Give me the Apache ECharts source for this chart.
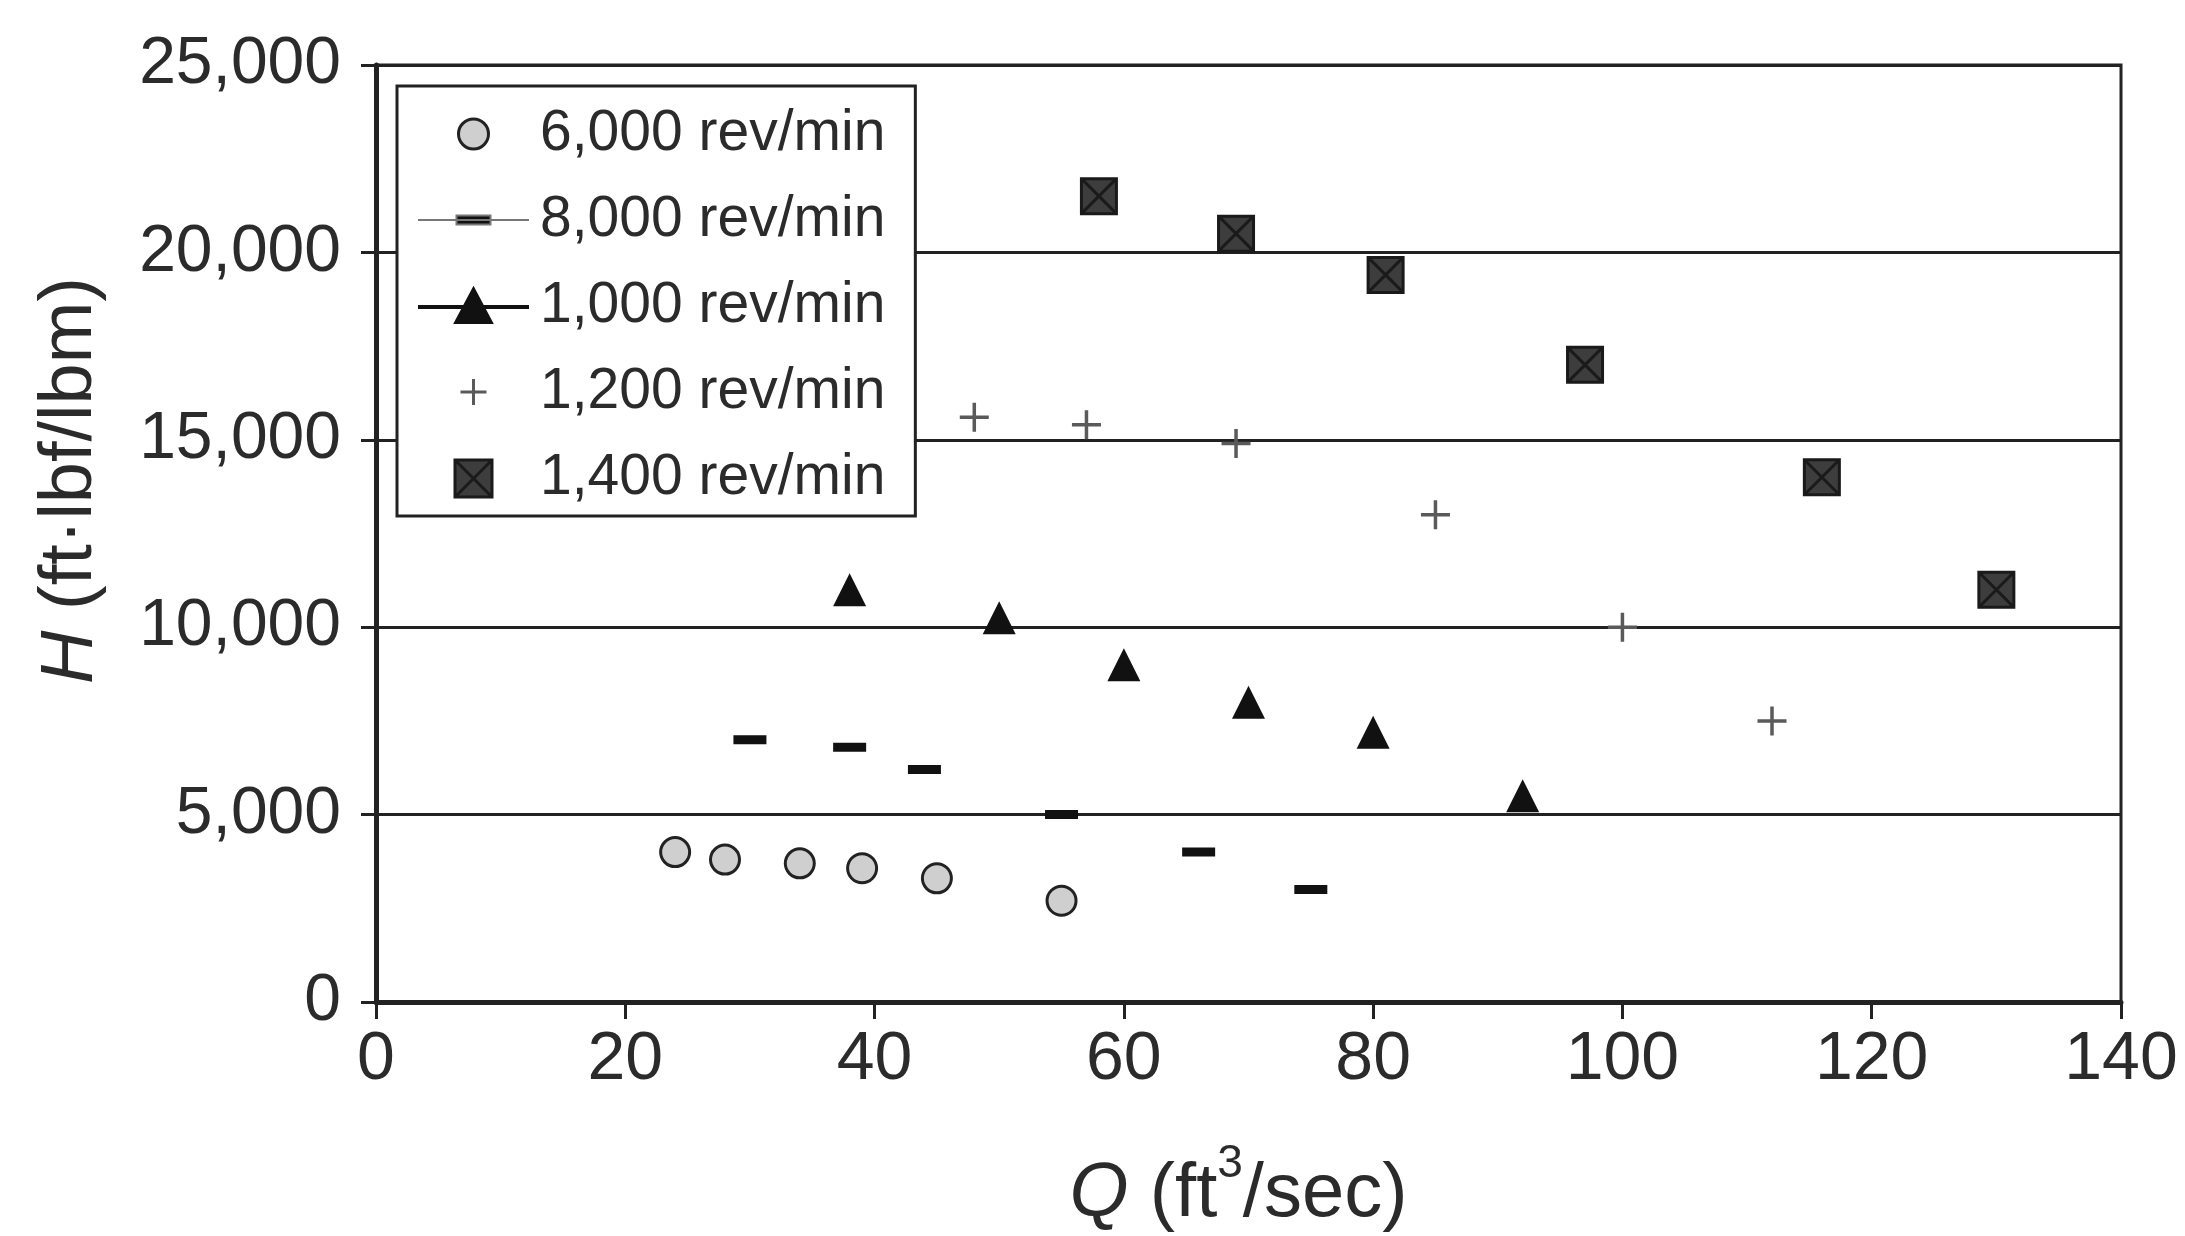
<!DOCTYPE html>
<html>
<head>
<meta charset="utf-8">
<script src="https://cdn.jsdelivr.net/npm/echarts@6/dist/echarts.min.js"></script>
<style>
html,body{margin:0;padding:0;background:#fff;}
#chart{width:2185px;height:1236px;}
</style>
</head>
<body>
<div id="chart"></div>
<script>
// ---- Data ----
const seriesNames = ['6,000 rev/min', '8,000 rev/min', '1,000 rev/min', '1,200 rev/min', '1,400 rev/min'];
const q6000 = [24, 28, 34, 39, 45, 55];
const h6000 = [4000, 3800, 3700, 3570, 3300, 2700];
const q8000 = [30, 38, 44, 55, 66, 75];
const h8000 = [7000, 6800, 6200, 5000, 4000, 3000];
const q1000 = [38, 50, 60, 70, 80, 92];
const h1000 = [11000, 10250, 9000, 8000, 7200, 5500];
const q1200 = [48, 57, 69, 85, 100, 112];
const h1200 = [15600, 15400, 14900, 13000, 10000, 7500];
const q1400 = [58, 69, 81, 97, 116, 130];
const h1400 = [21500, 20500, 19400, 17000, 14000, 11000];
const xTicks = [0, 20, 40, 60, 80, 100, 120, 140];
const yTicks = [0, 5000, 10000, 15000, 20000, 25000];

const pairs = (xs, ys) => xs.map((x, i) => [x, ys[i]]);
const FONT = '"Liberation Sans", Arial, Helvetica, sans-serif';
const INK = '#222';
const TXT = '#2b2b2b';

const plusPath = 'path://M5,0V10M0,5H10';
const xSquarePath = 'path://M0,0H10V10H0Z M0,0L10,10 M10,0L0,10';

// legend icons (box 111 x 40, anchored by the two move-to points)
const legCircle = 'path://M0,0M111,40M70.5,20A15,15 0 1 1 40.5,20A15,15 0 1 1 70.5,20Z';
const legDash = 'path://M0,0M111,40M0,20H111M38.5,15.5H72.5V24.5H38.5Z';
const legTri = 'path://M0,0M111,40M0,21H111M55.5,4L72.5,36H38.5Z';
const legPlus = 'path://M0,0M111,40M55.5,7V33M42.5,20H68.5';
const legSq = 'path://M0,0M111,40M37,2H74V39H37ZM37,2L74,39M74,2L37,39';

const chart = echarts.init(document.getElementById('chart'), null, {renderer: 'canvas'});
chart.setOption({
  backgroundColor: '#fff',
  animation: false,
  textStyle: {fontFamily: FONT},
  grid: {
    left: 376, right: 64, top: 65, bottom: 234,
    containLabel: false, outerBoundsMode: 'none',
    show: true, borderColor: INK, borderWidth: 3, backgroundColor: 'transparent'
  },
  legend: {
    orient: 'vertical',
    left: 397, top: 86,
    padding: [18, 30, 8, 19],
    backgroundColor: '#fff',
    borderColor: INK, borderWidth: 3, borderRadius: 0,
    itemWidth: 111, itemHeight: 40, itemGap: 26,
    symbolKeepAspect: true,
    textStyle: {fontSize: 57, color: TXT, fontFamily: FONT, lineHeight: 60, padding: [0, 0, 0, 6]},
    data: [
      {name: seriesNames[0], icon: legCircle, itemStyle: {color: '#cfcfcf', borderColor: INK, borderWidth: 3}},
      {name: seriesNames[1], icon: legDash, itemStyle: {color: '#111', borderColor: '#777', borderWidth: 2}},
      {name: seriesNames[2], icon: legTri, itemStyle: {color: '#111', borderColor: '#111', borderWidth: 4}},
      {name: seriesNames[3], icon: legPlus, itemStyle: {color: 'rgba(0,0,0,0)', borderColor: '#5a5a5a', borderWidth: 3}},
      {name: seriesNames[4], icon: legSq, itemStyle: {color: '#3d3d3d', borderColor: '#1a1a1a', borderWidth: 3}}
    ]
  },
  xAxis: {
    type: 'value', min: 0, max: 140, interval: 20,
    axisLine: {show: true, lineStyle: {color: INK, width: 5}},
    axisTick: {show: true, length: 17, lineStyle: {color: INK, width: 3}},
    splitLine: {show: false},
    axisLabel: {fontSize: 68, color: TXT, margin: 24, fontFamily: FONT,
      formatter: v => (xTicks.indexOf(v) >= 0 ? String(v) : '')},
    name: '{i|Q} (ft{s|3}/sec)',
    nameLocation: 'middle', nameGap: 139,
    nameTextStyle: {fontSize: 76, color: TXT, fontFamily: FONT, padding: [0, 20, 0, 0],
      rich: {i: {fontSize: 76, fontStyle: 'italic', color: TXT, fontFamily: FONT},
             s: {fontSize: 46, color: TXT, fontFamily: FONT, padding: [0, 0, 62, 0]}}}
  },
  yAxis: {
    type: 'value', min: 0, max: 25000, interval: 5000,
    axisLine: {show: true, lineStyle: {color: INK, width: 5}},
    axisTick: {show: true, length: 15, lineStyle: {color: INK, width: 3}},
    splitLine: {show: true, lineStyle: {color: INK, width: 3}},
    axisLabel: {fontSize: 66, color: TXT, margin: 35, fontFamily: FONT,
      formatter: v => (yTicks.indexOf(v) >= 0 ? String(v).replace(/\B(?=(\d{3})+(?!\d))/g, ',') : '')},
    name: '{i|H} (ft·lbf/lbm)',
    nameLocation: 'middle', nameRotate: 90, nameGap: 268,
    nameTextStyle: {fontSize: 74, color: TXT, fontFamily: FONT, padding: [0, 0, 0, 106],
      rich: {i: {fontSize: 74, fontStyle: 'italic', color: TXT, fontFamily: FONT}}}
  },
  series: [
    {name: seriesNames[0], type: 'scatter', data: pairs(q6000, h6000), symbol: 'circle', symbolSize: 29,
      itemStyle: {color: '#cfcfcf', borderColor: INK, borderWidth: 3, opacity: 1}},
    {name: seriesNames[1], type: 'scatter', data: pairs(q8000, h8000), symbol: 'rect', symbolSize: [33, 9],
      itemStyle: {color: '#111', opacity: 1}},
    {name: seriesNames[2], type: 'scatter', data: pairs(q1000, h1000), symbol: 'triangle', symbolSize: 33,
      itemStyle: {color: '#111', opacity: 1}},
    {name: seriesNames[3], type: 'scatter', data: pairs(q1200, h1200), symbol: plusPath, symbolSize: 29,
      itemStyle: {color: 'rgba(0,0,0,0)', borderColor: '#5a5a5a', borderWidth: 3.5, opacity: 1}},
    {name: seriesNames[4], type: 'scatter', data: pairs(q1400, h1400), symbol: xSquarePath, symbolSize: 35,
      itemStyle: {color: '#3d3d3d', borderColor: '#1a1a1a', borderWidth: 3, opacity: 1}}
  ]
});
</script>
</body>
</html>
